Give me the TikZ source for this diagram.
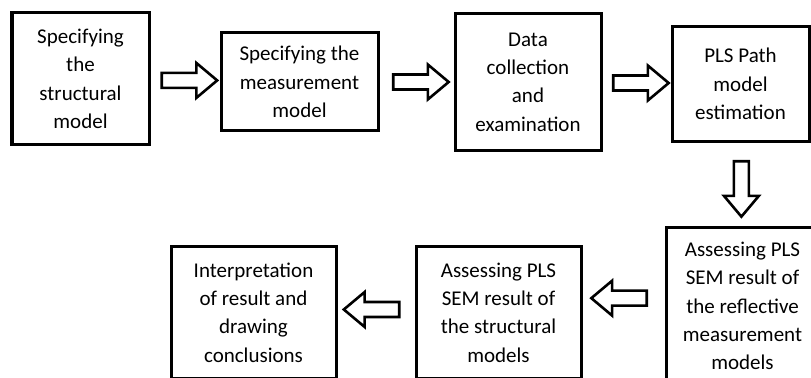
\documentclass[tikz,border=0pt]{standalone}
\usepackage{fontspec}
\setmainfont{Carlito}
\usetikzlibrary{shapes.arrows, positioning}
\tikzstyle{stage} = [rectangle, draw=black, line width=1.5pt, align=center, inner sep=2pt, font=\fontsize{10.5}{14.2}\selectfont]
\tikzstyle{bigarrow} = [single arrow, draw=black, fill=white, line width=1.3pt, minimum height=27.7pt, inner sep=3.1pt, single arrow head extend=5pt, single arrow tip angle=80]
\tikzstyle{rarrow} = [bigarrow]
\tikzstyle{larrow} = [bigarrow, shape border rotate=180]
\tikzstyle{darrow} = [bigarrow, shape border rotate=270]

\begin{document}
\begin{tikzpicture}
\useasboundingbox (0,0) rectangle (405.5pt,-189pt);
\node (step1) [stage, minimum width=68.5pt, minimum height=66pt] at (40.25pt,-39.5pt) {Specifying\\the\\structural\\model};
\node (step2) [stage, minimum width=78.5pt, minimum height=49pt, right=34.5pt of step1, yshift=-1.5pt] {Specifying the\\measurement\\model};
\node (step3) [stage, minimum width=73pt, minimum height=68.5pt, right=37pt of step2] {Data\\collection\\and\\examination};
\node (step4) [stage, minimum width=68.5pt, minimum height=57.5pt, right=34pt of step3, yshift=-1pt] {PLS Path\\model\\estimation};
\node (step5) [stage, minimum width=76.5pt, minimum height=78.5pt, below=41.5pt of step4, xshift=1pt] {Assessing PLS\\SEM result of\\the reflective\\measurement\\models};
\node (step6) [stage, minimum width=82.5pt, minimum height=66pt, left=41pt of step5, yshift=-3.25pt] {Assessing PLS\\SEM result of\\the structural\\models};
\node (step7) [stage, minimum width=82.5pt, minimum height=66pt, left=38.5pt of step6] {Interpretation\\of result and\\drawing\\conclusions};

\path (step1) -- node [rarrow] (arr1) {} (step2);
\path (step2) -- node [rarrow] (arr2) {} (step3);
\path (step3) -- node [rarrow] (arr3) {} (step4);
\path (step4) -- node [darrow] (arr4) {} (step5);
\path (step5) -- node [larrow, yshift=5.5pt] (arr5) {} (step6);
\path (step6) -- node [larrow, yshift=1.5pt] (arr6) {} (step7);
\end{tikzpicture}
\end{document}
